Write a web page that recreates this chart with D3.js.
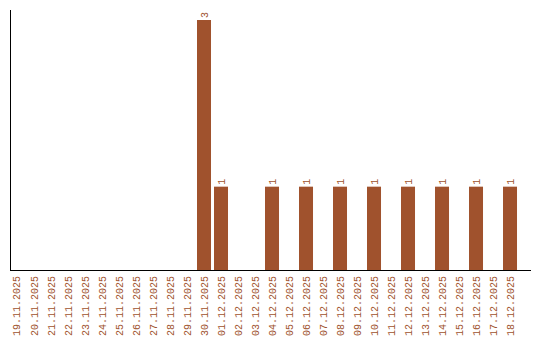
<!DOCTYPE html>
<html>
<head>
<meta charset="utf-8">
<script src="https://cdn.jsdelivr.net/npm/d3@7"></script>
<style>
  body { margin: 0; background: #fff; }
  text { font-family: "Liberation Mono", "DejaVu Sans Mono", monospace; font-size: 10px; fill: #a0522d; }
</style>
</head>
<body>
<svg id="chart" width="540" height="340"></svg>
<script>
const dates = ['19.11.2025','20.11.2025','21.11.2025','22.11.2025','23.11.2025','24.11.2025',
  '25.11.2025','26.11.2025','27.11.2025','28.11.2025','29.11.2025','30.11.2025',
  '01.12.2025','02.12.2025','03.12.2025','04.12.2025','05.12.2025','06.12.2025',
  '07.12.2025','08.12.2025','09.12.2025','10.12.2025','11.12.2025','12.12.2025',
  '13.12.2025','14.12.2025','15.12.2025','16.12.2025','17.12.2025','18.12.2025'];
const counts = [0,0,0,0,0,0,0,0,0,0,0,3,1,0,0,1,0,1,0,1,0,1,0,1,0,1,0,1,0,1];

const svg = d3.select('#chart');
const plotLeft = 10, plotRight = 530, plotTop = 10, plotBottom = 270;

const x = d3.scaleBand()
    .domain(dates)
    .range([plotLeft, plotRight])
    .paddingInner(0.1765)
    .paddingOuter(0.382)
    .align(0);

const y = d3.scaleLinear()
    .domain([0, 3])
    .range([plotBottom, 20]);

const data = dates.map((d, i) => ({date: d, n: counts[i]}));

// bars
svg.selectAll('.bar')
    .data(data.filter(d => d.n > 0))
    .enter().append('rect')
    .attr('class', 'bar')
    .attr('x', d => x(d.date))
    .attr('y', d => y(d.n))
    .attr('width', x.bandwidth())
    .attr('height', d => y(0) - y(d.n))
    .attr('fill', '#a0522d');

// value labels
svg.selectAll('.val')
    .data(data.filter(d => d.n > 0))
    .enter().append('text')
    .attr('class', 'val')
    .attr('transform', d => `translate(${x(d.date) + x.bandwidth() / 2},${y(d.n) - 2}) rotate(-90)`)
    .attr('dy', '0.35em')
    .attr('text-anchor', 'start')
    .text(d => d.n);

// date labels
svg.selectAll('.lbl')
    .data(dates)
    .enter().append('text')
    .attr('class', 'lbl')
    .attr('transform', d => `translate(${x(d) + x.bandwidth() / 2},${plotBottom + 6}) rotate(-90)`)
    .attr('dy', '0.35em')
    .attr('text-anchor', 'end')
    .text(d => d);

// axis lines
svg.append('line')
    .attr('x1', plotLeft + 0.5).attr('x2', plotLeft + 0.5)
    .attr('y1', plotTop).attr('y2', plotBottom)
    .attr('stroke', '#000');
svg.append('line')
    .attr('x1', plotLeft).attr('x2', plotRight + 1)
    .attr('y1', plotBottom + 0.5).attr('y2', plotBottom + 0.5)
    .attr('stroke', '#000');
</script>
</body>
</html>
